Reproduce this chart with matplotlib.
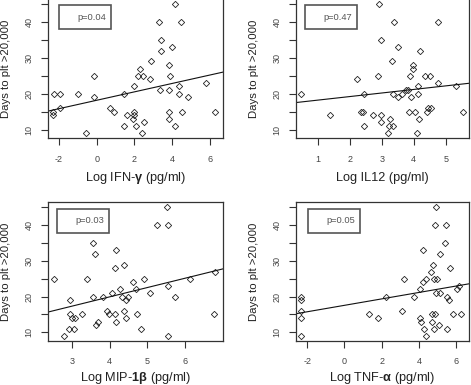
import matplotlib
matplotlib.use('Agg')
import matplotlib.pyplot as plt
from matplotlib.patches import Rectangle

plt.rcParams['font.family'] = ['Liberation Sans', 'DejaVu Sans']
plt.rcParams['axes.unicode_minus'] = False
plt.rcParams['mathtext.fontset'] = 'custom'
plt.rcParams['mathtext.rm'] = 'Liberation Sans'
plt.rcParams['mathtext.bf'] = 'Liberation Sans:bold'

# values
ifn_x = [4.18, 3.29, 4.48, 3.43, 3.43, 3.98, 2.88, 2.32, 2.21, 2.44, 2.85, 3.82, 3.91, -0.12,
         -2.28, -1.93, -0.97, -0.12, 1.43, 2.0, 3.36, 3.82, 4.37, 4.37, 4.87, 5.81, -1.96,
         -2.3, -2.3, 0.73, 0.94, 1.61, 2.0, 2.0, 1.91, 1.43, 2.09, 2.53, 2.41, -0.55, 3.82,
         3.82, 4.53, 4.18, 6.28]
ifn_y = [45, 40, 40, 35, 32, 33, 29, 27, 25, 25, 24, 28, 25, 25,
         20, 20, 20, 19, 20, 22, 21, 21, 22, 20, 19, 23, 16,
         15, 14, 16, 15, 14, 15, 14, 13, 11, 11, 12, 9, 9, 15,
         13, 15, 11, 15]

il12_x = [2.90, 3.37, 4.75, 2.97, 3.49, 4.20, 3.32, 3.97, 3.96, 2.23, 2.88, 3.88, 4.35, 4.50,
          4.77, 5.32, 0.48, 2.43, 3.36, 3.49, 3.64, 3.77, 3.83, 3.90, 4.12, 4.14, 2.36, 2.40,
          1.37, 2.71, 2.96, 3.24, 2.96, 2.43, 3.21, 3.35, 3.18, 4.09, 3.86, 4.04, 4.16, 4.41,
          4.46, 4.54, 5.53]
il12_y = [45, 40, 40, 35, 33, 32, 29, 28, 27, 24, 25, 25, 25, 25,
          23, 22, 20, 20, 20, 19, 20, 21, 21, 19, 22, 20, 15, 15,
          14, 14, 14, 13, 12, 11, 11, 11, 9, 9, 15, 15, 13, 15,
          16, 16, 15]

mip_x = [5.52, 5.26, 5.54, 3.56, 3.61, 4.16, 4.14, 4.37, 2.52, 3.41, 4.91, 4.61, 4.27, 4.71,
         4.06, 5.08, 5.54, 6.12, 6.80, 2.96, 3.56, 3.83, 4.32, 4.50, 4.43, 5.74, 3.93, 3.98,
         4.15, 4.38, 4.73, 2.96, 3.00, 3.09, 3.27, 4.43, 3.70, 3.64, 4.17, 2.93, 3.05, 4.84,
         2.78, 5.56, 6.78]
mip_y = [45, 40, 40, 35, 32, 33, 28, 29, 25, 25, 25, 24, 22, 22,
         21, 21, 23, 25, 27, 19, 20, 20, 20, 20, 19, 20, 16, 15,
         15, 16, 15, 15, 14, 14, 15, 14, 13, 12, 13, 11, 11, 11,
         9, 9, 15]

tnf_x = [4.93, 4.89, 5.48, 5.39, 4.25, 5.14, 5.66, 4.75, 4.64, 3.18, 4.38, 4.82, 5.00, 4.25,
         4.05, 6.05, 6.18, 2.21, 3.73, 4.95, 5.13, 5.54, 5.64, -2.32, -2.32, -2.32, -2.32,
         -2.32, 1.32, 1.80, 3.09, 4.04, 4.14, 4.29, 4.41, 4.71, 4.86, 4.79, 5.09, 5.54, 5.82,
         6.25, 4.71]
tnf_y = [45, 40, 40, 35, 33, 32, 28, 29, 27, 25, 25, 25, 25, 24,
         22, 22, 23, 20, 20, 21, 21, 20, 19, 20, 19, 16, 14,
         9, 15, 14, 16, 14, 13, 11, 9, 15, 15, 11, 12, 11, 15,
         15, 13]

x_labels = [r'Log IFN-$\mathbf{γ}$ (pg/ml)', 'Log IL12 (pg/ml)',
            r'Log MIP-$\mathbf{1β}$ (pg/ml)', r'Log TNF-$\mathbf{α}$ (pg/ml)']
x_ticks = [[-2, 0, 2, 4, 6], [1, 2, 3, 4, 5], [3, 4, 5, 6], [-2, 0, 2, 4, 6]]
x_lims = [(-2.60, 6.69), (0.30, 5.73), (2.36, 7.00), (-2.625, 6.70)]
# fitted lines (intercept, slope) as drawn in the reference
fits = [(18.15, 1.17), (17.21, 0.99), (9.49, 2.61), (17.56, 0.90)]
p_texts = ['p=0.04', 'p=0.47', 'p=0.03', 'p=0.05']
box_left = [11.6, 9.3, 9.0, 12.0]

W, H = 471, 385
fig = plt.figure(figsize=(W / 100, H / 100), dpi=100)

# axes frames in pixels: left, top, right, bottom
frames = [(47.7, -1.3, 222.7, 138.3), (295.7, -1.3, 469.0, 138.3),
          (47.7, 202.3, 222.7, 341.0), (295.7, 202.3, 469.0, 341.0)]
xlab_off = [42.7, 42.7, 40.5, 40.5]
data = [(ifn_x, ifn_y), (il12_x, il12_y), (mip_x, mip_y), (tnf_x, tnf_y)]

frame_col = '#333333'
for i, (l, t, r, b) in enumerate(frames):
    ax = fig.add_axes([l / W, 1 - b / H, (r - l) / W, (b - t) / H])
    xs, ys = data[i]
    ax.plot(xs, ys, linestyle='none', marker='D', ms=3.2, mfc='none',
            mec='#222222', mew=0.6)
    a, m = fits[i]
    ax.axline((0, a), slope=m, color='#111111', lw=0.8)
    ax.set_xlim(*x_lims[i])
    ax.set_ylim(7.56, 46.44)
    ax.set_xticks(x_ticks[i])
    ax.set_xticklabels([str(v) for v in x_ticks[i]])
    ax.set_yticks([10, 15, 20, 25, 30, 35, 40, 45])
    ax.set_yticklabels(['10', '', '20', '', '30', '', '40', ''])
    for s in ax.spines.values():
        s.set_color(frame_col)
        s.set_linewidth(0.9)
    ax.tick_params(axis='both', length=5, width=0.8, color=frame_col,
                   labelsize=6.5, labelcolor='#444444')
    ax.tick_params(axis='x', pad=6.8)
    ax.tick_params(axis='y', pad=5.2, labelrotation=90)
    for lab in ax.get_yticklabels():
        lab.set_va('center')

    aw, ah = r - l, b - t
    ax.text(0.5, -xlab_off[i] / ah, x_labels[i], transform=ax.transAxes, ha='center',
            va='baseline', fontsize=9.2, color='#222222')
    ax.text(-39 / aw, 0.5, 'Days to plt >20,000', transform=ax.transAxes,
            rotation=90, rotation_mode='anchor', ha='center', va='baseline',
            fontsize=8.2, color='#222222')

    bx, by, bw, bh = box_left[i] / aw, 1 - 6.3 / ah, 52 / aw, 24 / ah
    ax.add_patch(Rectangle((bx, by - bh), bw, bh, transform=ax.transAxes,
                           fill=False, ec='#555555', lw=1.2, clip_on=False))
    ax.text(bx + bw - 5 / aw, by - bh / 2, p_texts[i], transform=ax.transAxes,
            ha='right', va='center', fontsize=6.7, color='#555555')

fig.savefig('out.png', dpi=100)
